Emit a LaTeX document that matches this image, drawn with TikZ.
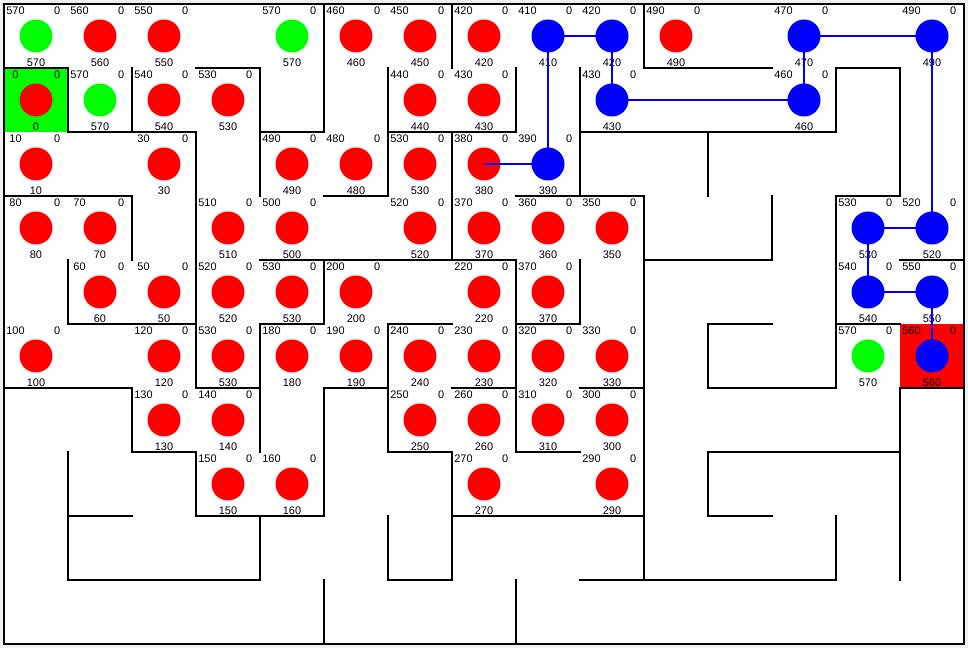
\documentclass[tikz,border=0pt]{standalone}
\usepackage{fontspec}
\setmainfont{Liberation Sans}
\usetikzlibrary{positioning}
\definecolor{BallRed}{RGB}{255,0,0}
\definecolor{BallGreen}{RGB}{0,255,0}
\definecolor{BallBlue}{RGB}{0,0,255}
\definecolor{FrameGray}{RGB}{240,240,240}

% one maze cell: column, row, value, ball style
\newcommand{\mazecell}[4]{%
  \node[#4] (cell-#2-#1) at ({#1+0.5}, {-#2-0.5}) {};
  \node[numlbl] (top-#2-#1) at ({#1+0.18}, {-#2-0.11}) {#3};
  \node[numlbl] (zero-#2-#1) at ({#1+0.83}, {-#2-0.11}) {0};
  \node[numlbl] (bot-#2-#1) at ({#1+0.5}, {-#2-0.915}) {#3};
}

\begin{document}
\begin{tikzpicture}[
    x=1.6cm, y=1.6cm,
    ball/.style={
        circle, minimum size=0.825cm, inner sep=0pt, draw=none
    },
    redball/.style={ball, fill=BallRed},
    greenball/.style={ball, fill=BallGreen},
    blueball/.style={ball, fill=BallBlue},
    numlbl/.style={font=\fontsize{7.8}{9}\selectfont, inner sep=0pt, text=black},
    wall/.style={line width=1.5pt, black, line cap=rect},
    route/.style={line width=1.4pt, BallBlue}
]

% ===================================================================
% FRAME
% ===================================================================
\useasboundingbox[fill=FrameGray] (-0.0625, 0.0625) rectangle (15.0625, -10.0625);
\fill[white] (0, 0) rectangle (15, -10);

% start and goal cells
\fill[BallGreen] (0, -1) rectangle (1, -2);
\fill[BallRed] (14, -5) rectangle (15, -6);

% ===================================================================
% CELLS
% ===================================================================
% --- row 0 ---
\mazecell{0}{0}{570}{greenball}
\mazecell{1}{0}{560}{redball}
\mazecell{2}{0}{550}{redball}
\mazecell{4}{0}{570}{greenball}
\mazecell{5}{0}{460}{redball}
\mazecell{6}{0}{450}{redball}
\mazecell{7}{0}{420}{redball}
\mazecell{8}{0}{410}{blueball}
\mazecell{9}{0}{420}{blueball}
\mazecell{10}{0}{490}{redball}
\mazecell{12}{0}{470}{blueball}
\mazecell{14}{0}{490}{blueball}

% --- row 1 ---
\mazecell{0}{1}{0}{redball}
\mazecell{1}{1}{570}{greenball}
\mazecell{2}{1}{540}{redball}
\mazecell{3}{1}{530}{redball}
\mazecell{6}{1}{440}{redball}
\mazecell{7}{1}{430}{redball}
\mazecell{9}{1}{430}{blueball}
\mazecell{12}{1}{460}{blueball}

% --- row 2 ---
\mazecell{0}{2}{10}{redball}
\mazecell{2}{2}{30}{redball}
\mazecell{4}{2}{490}{redball}
\mazecell{5}{2}{480}{redball}
\mazecell{6}{2}{530}{redball}
\mazecell{7}{2}{380}{redball}
\mazecell{8}{2}{390}{blueball}

% --- row 3 ---
\mazecell{0}{3}{80}{redball}
\mazecell{1}{3}{70}{redball}
\mazecell{3}{3}{510}{redball}
\mazecell{4}{3}{500}{redball}
\mazecell{6}{3}{520}{redball}
\mazecell{7}{3}{370}{redball}
\mazecell{8}{3}{360}{redball}
\mazecell{9}{3}{350}{redball}
\mazecell{13}{3}{530}{blueball}
\mazecell{14}{3}{520}{blueball}

% --- row 4 ---
\mazecell{1}{4}{60}{redball}
\mazecell{2}{4}{50}{redball}
\mazecell{3}{4}{520}{redball}
\mazecell{4}{4}{530}{redball}
\mazecell{5}{4}{200}{redball}
\mazecell{7}{4}{220}{redball}
\mazecell{8}{4}{370}{redball}
\mazecell{13}{4}{540}{blueball}
\mazecell{14}{4}{550}{blueball}

% --- row 5 ---
\mazecell{0}{5}{100}{redball}
\mazecell{2}{5}{120}{redball}
\mazecell{3}{5}{530}{redball}
\mazecell{4}{5}{180}{redball}
\mazecell{5}{5}{190}{redball}
\mazecell{6}{5}{240}{redball}
\mazecell{7}{5}{230}{redball}
\mazecell{8}{5}{320}{redball}
\mazecell{9}{5}{330}{redball}
\mazecell{13}{5}{570}{greenball}
\mazecell{14}{5}{560}{blueball}

% --- rows 6 and 7 ---
\mazecell{2}{6}{130}{redball}
\mazecell{3}{6}{140}{redball}
\mazecell{6}{6}{250}{redball}
\mazecell{7}{6}{260}{redball}
\mazecell{8}{6}{310}{redball}
\mazecell{9}{6}{300}{redball}
\mazecell{3}{7}{150}{redball}
\mazecell{4}{7}{160}{redball}
\mazecell{7}{7}{270}{redball}
\mazecell{9}{7}{290}{redball}

% ===================================================================
% ROUTE
% ===================================================================
\draw[route] (cell-2-7.center) -- (cell-2-8.center) -- (cell-0-8.center)
    -- (cell-0-9.center) -- (cell-1-9.center) -- (cell-1-12.center)
    -- (cell-0-12.center) -- (cell-0-14.center) -- (cell-3-14.center)
    -- (cell-3-13.center) -- (cell-4-13.center) -- (cell-4-14.center)
    -- (cell-5-14.center);

% ===================================================================
% WALLS
% ===================================================================
\draw[wall] (0, 0) rectangle (15, -10);

% left part
\draw[wall] (0,-1) -- (1,-1) -- (1,-2) -- (3,-2) -- (3,-6) -- (4,-6);
\draw[wall] (2,-1) -- (2,-2);
\draw[wall] (3,-1) -- (4,-1) -- (4,-3);
\draw[wall] (0,-3) -- (2,-3) -- (2,-4);
\draw[wall] (1,-4) -- (1,-5) -- (3,-5);
\draw[wall] (0,-6) -- (2,-6) -- (2,-7) -- (3,-7) -- (3,-8) -- (5,-8) -- (5,-6) -- (6,-6);
\draw[wall] (1,-7) -- (1,-9) -- (4,-9) -- (4,-8);
\draw[wall] (1,-8) -- (2,-8);
\draw[wall] (5,-4) -- (5,-5) -- (4,-5) -- (4,-7);
\draw[wall] (5,-9) -- (5,-10);

% middle part
\draw[wall] (5,0) -- (5,-2) -- (4,-2);
\draw[wall] (6,-1) -- (6,-3) -- (5,-3);
\draw[wall] (7,0) -- (7,-1);
\draw[wall] (8,-1) -- (8,-2) -- (6,-2);
\draw[wall] (7,-2) -- (7,-4);
\draw[wall] (4,-4) -- (8,-4) -- (8,-7) -- (9,-7);
\draw[wall] (7,-5) -- (6,-5) -- (6,-7) -- (7,-7) -- (7,-9) -- (6,-9) -- (6,-8);
\draw[wall] (7,-6) -- (8,-6);
\draw[wall] (8,-5) -- (9,-5) -- (9,-4);
\draw[wall] (9,-6) -- (10,-6);
\draw[wall] (7,-8) -- (10,-8);
\draw[wall] (8,-9) -- (8,-10);
\draw[wall] (9,-1) -- (9,-3);
\draw[wall] (8,-3) -- (10,-3) -- (10,-9);
\draw[wall] (9,-9) -- (13,-9) -- (13,-8);

% right part
\draw[wall] (10,0) -- (10,-1) -- (12,-1);
\draw[wall] (9,-2) -- (13,-2) -- (13,-1) -- (14,-1) -- (14,-3) -- (13,-3)
    -- (13,-6) -- (11,-6) -- (11,-5) -- (12,-5);
\draw[wall] (11,-2) -- (11,-3);
\draw[wall] (12,-3) -- (12,-4) -- (10,-4);
\draw[wall] (14,-4) -- (15,-4);
\draw[wall] (13,-5) -- (14,-5);
\draw[wall] (15,-6) -- (14,-6) -- (14,-9);
\draw[wall] (14,-7) -- (11,-7) -- (11,-8) -- (12,-8);

\end{tikzpicture}
\end{document}
